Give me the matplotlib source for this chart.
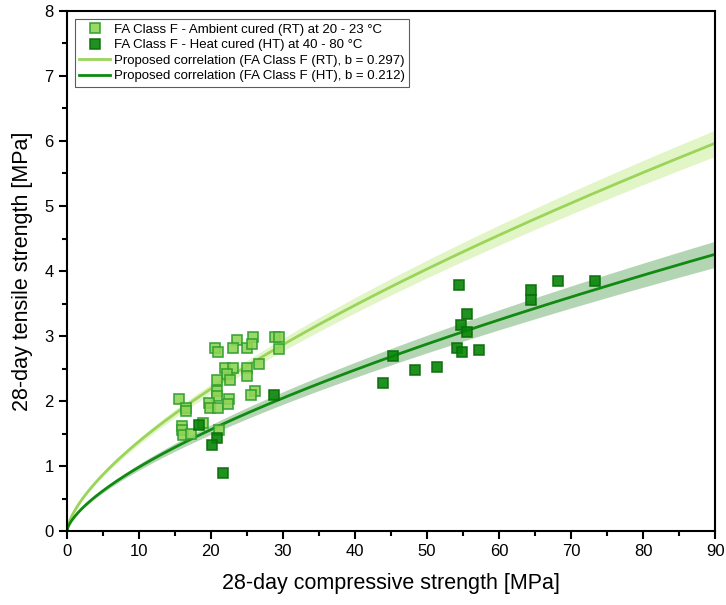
import numpy as np
import matplotlib.pyplot as plt

plt.rcParams['font.family'] = ['Liberation Sans', 'DejaVu Sans']

# Ambient cured (RT) data
rt_fc = [25.9, 23.6, 23.1, 25.0, 25.7, 28.9, 29.5, 29.5, 20.6, 21.0,
         21.9, 23.1, 25.0, 26.7, 22.3, 22.6, 25.0, 20.8, 20.9, 20.8,
         26.1, 25.6, 15.6, 16.6, 16.5, 19.8, 19.9, 21.0, 22.5, 22.4,
         18.9, 16.0, 16.0, 16.1, 17.2, 21.1]
rt_ft = [2.99, 2.94, 2.81, 2.81, 2.88, 2.99, 2.99, 2.80, 2.81, 2.75,
         2.51, 2.51, 2.51, 2.57, 2.41, 2.32, 2.39, 2.32, 2.16, 2.08,
         2.16, 2.09, 2.03, 1.90, 1.85, 1.97, 1.90, 1.90, 2.03, 1.96,
         1.67, 1.62, 1.55, 1.48, 1.49, 1.55]

# Heat cured (HT) data
ht_fc = [54.5, 64.5, 64.5, 68.2, 73.3, 55.6, 54.7, 55.5, 54.1, 54.8,
         57.2, 45.3, 48.4, 51.4, 43.9, 28.7, 18.4, 20.9, 20.2, 21.7]
ht_ft = [3.78, 3.71, 3.55, 3.85, 3.84, 3.34, 3.17, 3.07, 2.82, 2.76,
         2.79, 2.69, 2.48, 2.53, 2.28, 2.09, 1.63, 1.43, 1.33, 0.89]

b_rt = 0.297
b_ht = 0.212
b_err = 0.01

fc = np.linspace(0, 90, 400)

fig, ax = plt.subplots(figsize=(7.26, 6.05), dpi=100)
fig.subplots_adjust(left=0.092, right=0.985, bottom=0.122, top=0.982)

# confidence bands
ax.fill_between(fc, (b_rt - b_err) * fc ** (2 / 3), (b_rt + b_err) * fc ** (2 / 3),
                color="#e2f5c6", lw=0, zorder=1)
ax.fill_between(fc, (b_ht - b_err) * fc ** (2 / 3), (b_ht + b_err) * fc ** (2 / 3),
                color="#b4d5b4", lw=0, zorder=1)

ax.plot(rt_fc, rt_ft, 's', ms=7.5, mfc="#8fd456", mec="#2e9e2e", mew=1.2,
        alpha=0.9, zorder=3, label="FA Class F - Ambient cured (RT) at 20 - 23 °C")
ax.plot(ht_fc, ht_ft, 's', ms=7.5, mfc="#078507", mec="#0a6e0a", mew=1.2,
        alpha=0.9, zorder=3, label="FA Class F - Heat cured (HT) at 40 - 80 °C")

ax.plot(fc, b_rt * fc ** (2 / 3), color="#9ad55a", lw=2, zorder=2,
        label="Proposed correlation (FA Class F (RT), b = 0.297)")
ax.plot(fc, b_ht * fc ** (2 / 3), color="#108a10", lw=2, zorder=2,
        label="Proposed correlation (FA Class F (HT), b = 0.212)")

ax.set_xlim(0, 90)
ax.set_ylim(0, 8)
ax.set_xticks(np.arange(0, 91, 10))
ax.set_xticks(np.arange(5, 90, 10), minor=True)
ax.set_yticks(np.arange(0, 9, 1))
ax.set_yticks(np.arange(0.5, 8, 1), minor=True)
ax.tick_params(which="both", direction="out", top=False, right=False,
               labelsize=12, width=1.5)
ax.tick_params(which="major", length=6)
ax.tick_params(which="minor", length=3.5)
for s in ax.spines.values():
    s.set_linewidth(1.5)

ax.set_xlabel("28-day compressive strength [MPa]", fontsize=15.5, labelpad=10)
ax.set_ylabel("28-day tensile strength [MPa]", fontsize=15.5, labelpad=8)

leg = ax.legend(loc="upper left", fontsize=9.5, frameon=True, fancybox=False,
                edgecolor="#333333", borderpad=0.35, labelspacing=0.25,
                handlelength=2.3, handletextpad=0.3, borderaxespad=0.6)
leg.get_frame().set_linewidth(0.8)

fig.savefig("out.png", dpi=100)
